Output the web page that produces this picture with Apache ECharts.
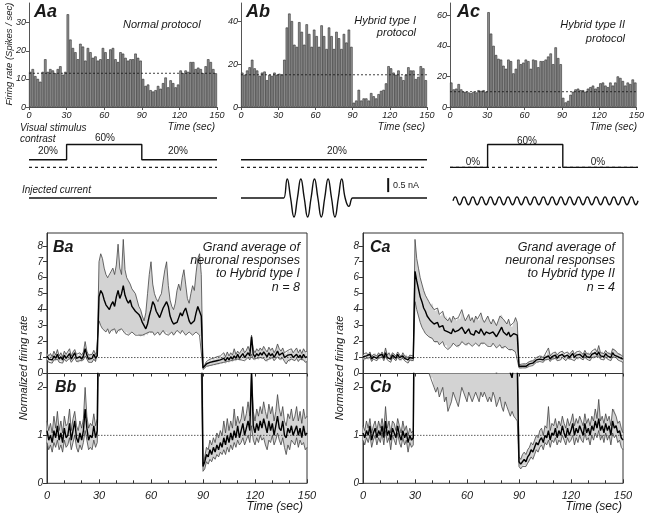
<!DOCTYPE html>
<html><head><meta charset="utf-8">
<script src="https://cdn.jsdelivr.net/npm/echarts@6/dist/echarts.min.js"></script>
<style>html,body{margin:0;padding:0;background:#fff}#c{width:647px;height:516px}</style>
</head><body><div id="c"></div>
<script>
// ---------------- DATA ----------------
// Panel A histograms (2 s bins, 0-150 s), spikes/sec
const aaRate = [12.5,13.5,11,10,9,12.5,17,12.5,13.5,13,12,13.5,14.5,11.5,12.5,
  33,24,21,19.5,17,22.5,21.5,16.5,21,19.5,17.5,18,16.5,17,21,19.5,17,20.5,21,17,16,19.5,19,17.5,16.5,17,17,19,17.5,16.5,
  10,7.5,8,6,5.5,6,7.5,6.5,8.5,10.5,7,9.5,8.5,7,8,13,12,13,12.5,16,16,13.5,14,13.5,12,14.5,17,16,13.5,12];
const abRate = [16,15,17,18.5,22,18,17,14.5,16,16.5,12.5,15,14.5,16,15,
  15.5,15,22,37,43.5,40,29,28,39.5,35,29,38.5,34,28,36,33,28,38,33,27,37,33,27,35,32,27,34,30,36,28,
  2,3,8,3,4,4,3,6.5,5,4,6,7.5,8,11,19,18,16,15,17,14,12.5,15,18.5,17,17,13,14,19,18,12.5];
const acRate = [16,11.5,12,15,11.5,10,10,9.5,9,10,9.5,11,10.5,11,10,
  62,48,40,34,31.5,31,27,25,31,30,22,25,31,28,29,31,30,25,31,30.5,26,30,30,31,33,35,28,39,32,28,
  6,3,4,8,10,11.5,12,11,11,10,12,13,14,12,13,15.5,16,14,13,16,14,16,20,19,17,14,16,15,18,16];
const baselineRate = [12, 15, 10];
const histMax = [37, 48.4, 68];
const histTicks = [[0,10,20,30],[0,20,40],[0,20,40,60]];
const timeTicks = [0,30,60,90,120,150];

// Stimulus contrast (%) vs time (s)
const contrastAa = [[0,20],[30,20],[30,60],[90,60],[90,20],[150,20]];
const contrastAb = [[0,20],[150,20]];
const contrastAc = [[0,0],[30,0],[30,60],[90,60],[90,0],[150,0]];
// Injected current (nA) vs time (s)
const currentAa = [[0,0],[150,0]];
const abCurT = [0,33,34.5,37.25,40,42.75,45.5,48.25,51,53.75,56.5,59.25,62,64.75,67.5,70.25,73,75.75,78.5,81.25,84,87,90,92,150];
const abCurV = [0,0,0,0.68,0,-0.68,0,0.68,0,-0.68,0,0.68,0,-0.68,0,0.68,0,-0.68,0,0.68,0,-0.3,0,0,0];
const acCurT = [2.4,4.2,7.7,11.2,14.7,18.2,21.7,25.2,28.8,32.3,35.8,39.3,42.8,46.3,49.9,53.4,56.9,60.4,63.9,67.4,70.9,74.5,78.0,81.5,85.0,88.5,92.0,95.5,99.1,102.6,106.1,109.6,113.1,116.6,120.2,123.7,127.2,130.7,134.2,137.7,141.2,144.8,148.3,150];
const acCurV = [-0.1,0.04,-0.24,0.04,-0.24,0.04,-0.24,0.04,-0.24,0.04,-0.24,0.04,-0.24,0.04,-0.24,0.04,-0.24,0.04,-0.24,0.04,-0.24,0.04,-0.24,0.04,-0.24,0.04,-0.24,0.04,-0.24,0.04,-0.24,0.04,-0.24,0.04,-0.24,0.04,-0.24,0.04,-0.24,0.04,-0.24,0.04,-0.24,-0.1];
const scaleBar = [[118.7,0.21],[118.7,0.71]]; // 0.5 nA

// Normalized firing rate, 1 s resolution, t = 0..150
const bMean = [1.1,0.9,1.0,0.85,1.1,0.95,1.2,0.9,1.05,0.85,1.15,0.95,1.0,1.25,0.9,1.1,1.3,0.95,0.85,1.05,0.9,1.1,1.55,1.15,0.9,1.0,0.95,1.2,0.95,1.1,
  4.8,5.2,5.0,4.6,4.3,4.2,4.0,4.3,4.5,4.2,4.8,5.2,4.7,5.0,5.5,4.9,4.6,4.4,4.6,4.2,4.1,3.9,4.0,3.7,3.5,3.2,3.0,2.8,3.1,3.6,
  4.0,4.5,4.3,3.9,3.7,3.5,3.8,4.1,4.3,4.5,4.2,3.6,3.3,3.1,3.0,3.2,3.5,3.8,3.6,3.9,4.1,3.7,3.3,3.1,3.0,3.3,3.8,4.2,4.3,3.6,
  0.35,0.45,0.6,0.55,0.7,0.6,0.75,0.65,0.8,0.7,0.85,0.75,0.95,0.8,1.0,0.85,1.05,0.9,1.1,0.95,1.2,0.95,1.1,1.25,1.0,1.15,1.3,1.1,2.3,1.2,
  1.05,1.25,1.1,1.3,1.15,1.35,1.2,1.05,1.3,1.1,1.25,1.0,1.2,1.4,1.15,1.1,1.3,1.0,0.95,1.15,1.05,1.2,1.0,1.1,1.2,1.0,1.15,0.95,1.2,1.0,1.05];
const bUpper = [1.3,1.1,1.25,1.05,1.4,1.15,1.5,1.1,1.3,1.05,1.4,1.2,1.25,1.55,1.1,1.35,1.5,1.2,1.1,1.3,1.15,1.35,2.0,1.4,1.15,1.25,1.2,1.45,1.2,1.35,
  7.0,7.5,7.2,6.6,6.2,6.0,6.1,6.4,6.6,6.2,6.8,8.1,6.6,6.2,8.4,6.5,6.0,5.8,5.6,5.3,5.2,5.0,4.6,4.2,4.0,3.6,3.3,3.8,5.0,6.2,
  7.0,5.6,5.0,4.7,4.5,4.8,5.0,5.8,6.5,7.0,5.5,4.6,4.2,4.0,4.4,5.2,5.6,5.2,6.0,6.5,5.6,4.7,4.4,5.0,5.5,5.2,6.3,7.2,7.5,6.2,
  0.4,0.55,0.75,0.7,0.9,0.8,0.95,0.85,1.05,0.95,1.1,1.0,1.3,1.05,1.35,1.1,1.3,1.15,1.55,1.2,1.4,1.25,1.35,1.6,1.3,1.45,1.7,1.4,2.4,1.5,
  1.3,1.55,1.4,1.6,1.45,1.7,1.5,1.35,1.65,1.45,1.6,1.3,1.5,1.85,1.55,1.4,1.6,1.3,1.2,1.45,1.35,1.55,1.3,1.4,1.6,1.3,1.5,1.25,1.55,1.35,1.4];
const bLower = [0.85,0.7,0.8,0.65,0.85,0.75,0.9,0.7,0.8,0.65,0.9,0.75,0.8,0.95,0.7,0.85,1.0,0.75,0.65,0.8,0.7,0.85,1.1,0.9,0.7,0.75,0.7,0.9,0.75,0.85,
  3.3,3.0,2.8,2.7,2.6,2.8,2.5,2.7,2.6,2.8,2.5,2.7,2.6,2.8,2.7,2.5,2.6,2.4,2.5,2.6,2.5,2.4,2.5,2.4,2.3,2.4,2.3,2.5,2.4,2.6,
  2.5,2.6,2.4,2.5,2.6,2.4,2.5,2.7,2.5,2.6,2.4,2.5,2.6,2.4,2.5,2.7,2.6,2.5,2.7,2.6,2.4,2.5,2.6,2.5,2.4,2.5,2.6,2.5,2.4,2.3,
  0.25,0.3,0.45,0.4,0.5,0.45,0.55,0.5,0.6,0.55,0.65,0.6,0.7,0.6,0.75,0.65,0.8,0.7,0.85,0.75,0.9,0.8,0.85,0.95,0.8,0.9,1.0,0.85,1.2,0.9,
  0.8,0.95,0.85,1.0,0.9,0.95,0.8,0.7,0.9,0.85,1.0,0.8,0.9,1.05,0.9,0.8,0.95,0.75,0.6,0.8,0.7,0.9,0.85,0.8,0.95,0.75,0.9,0.8,0.85,0.7,0.75];

const cMean = [1.05,0.95,1.1,1.0,1.2,0.9,1.05,1.15,0.95,1.1,1.0,1.2,0.95,1.3,1.0,1.1,0.9,1.15,1.05,0.95,1.2,1.0,0.9,1.1,0.95,1.05,0.85,1.0,0.9,0.95,
  6.4,5.8,5.3,4.8,4.5,4.1,3.9,3.6,3.5,3.3,3.4,3.1,3.0,3.2,2.9,2.8,3.0,2.7,2.8,2.6,2.7,2.5,2.8,2.6,2.5,2.7,2.6,2.9,2.7,2.5,
  2.6,2.8,2.5,2.6,2.4,2.7,2.6,2.5,2.8,2.6,2.4,2.6,2.7,2.5,2.4,2.6,2.5,2.3,2.5,2.7,2.9,2.6,2.5,2.4,2.6,2.3,2.2,2.5,2.6,2.4,
  0.45,0.4,0.45,0.5,0.45,0.55,0.6,0.7,0.65,0.75,0.85,0.8,0.9,0.95,0.85,1.0,0.95,1.1,0.9,1.05,1.0,1.15,0.95,1.1,1.0,1.2,1.05,0.95,1.15,1.0,
  1.1,1.25,1.0,1.15,1.05,1.2,1.1,1.0,1.25,1.05,1.15,1.0,1.2,1.1,1.3,1.15,1.35,1.1,1.2,1.05,1.25,1.1,1.2,1.0,1.3,1.15,1.2,1.05,1.1,0.95,0.9];
const cUpper = [1.2,1.1,1.3,1.15,1.35,1.05,1.2,1.3,1.1,1.3,1.15,1.35,1.1,1.6,1.15,1.3,1.05,1.3,1.25,1.1,1.35,1.2,1.05,1.3,1.1,1.2,1.0,1.15,1.05,1.1,
  8.4,7.2,6.6,6.0,5.6,5.2,4.9,4.7,4.5,4.3,4.4,4.0,3.9,4.1,3.7,3.6,3.9,3.5,3.6,3.3,3.5,3.2,3.6,3.4,3.3,3.5,3.4,4.0,3.6,3.3,
  3.5,3.7,3.3,3.5,3.2,3.6,3.4,3.3,3.8,3.4,3.2,3.4,3.6,3.3,3.1,3.4,3.3,3.0,3.3,3.6,3.7,3.4,3.3,3.1,3.4,3.0,2.9,3.2,3.5,3.2,
  0.55,0.5,0.6,0.65,0.6,0.7,0.75,0.85,0.8,0.9,1.0,0.95,1.1,1.15,1.0,1.2,1.15,1.6,1.1,1.25,1.2,1.35,1.15,1.3,1.2,1.4,1.25,1.15,1.35,1.2,
  1.3,1.45,1.2,1.35,1.25,1.4,1.3,1.2,1.45,1.25,1.35,1.2,1.4,1.3,1.55,1.35,1.75,1.3,1.4,1.25,1.45,1.3,1.4,1.2,1.55,1.55,1.4,1.25,1.3,1.15,1.05];
const cLower = [0.9,0.8,0.95,0.85,1.0,0.75,0.9,1.0,0.8,0.95,0.85,1.05,0.8,1.1,0.85,0.95,0.7,1.0,0.9,0.8,1.05,0.85,0.75,0.95,0.8,0.9,0.65,0.85,0.75,0.8,
  4.5,4.0,3.6,3.2,2.9,2.7,2.5,2.4,2.3,2.2,2.2,2.0,1.9,2.0,1.8,1.9,2.0,1.7,1.8,1.5,1.6,1.7,1.9,1.8,1.7,1.6,1.8,2.0,1.9,1.8,
  1.7,1.9,1.8,1.7,1.8,1.9,1.8,1.7,1.9,1.8,1.9,1.8,1.7,1.8,1.7,1.9,1.8,1.6,1.7,1.8,1.6,1.5,1.7,1.6,1.5,1.4,1.5,1.4,1.35,1.3,
  0.35,0.3,0.35,0.38,0.35,0.42,0.45,0.55,0.5,0.6,0.7,0.65,0.75,0.8,0.7,0.85,0.8,0.9,0.75,0.9,0.85,0.95,0.8,0.9,0.85,1.0,0.9,0.8,0.95,0.85,
  0.9,1.0,0.8,0.95,0.85,1.0,0.9,0.85,1.05,0.9,0.95,0.8,1.0,0.9,1.05,0.95,1.1,0.9,1.0,0.85,1.05,0.9,1.0,0.8,1.05,0.95,1.0,0.85,0.9,0.75,0.7];
const normTicksA = [0,1,2,3,4,5,6,7,8];
const normTicksB = [0,1,2];

// ---------------- BUILD ----------------
const FONT = '"Liberation Sans", Arial, sans-serif';
const tB = bMean.map((_, i) => i);
const histBins = aaRate.map((_, i) => i * 2);
const grids = [], xAxes = [], yAxes = [], series = [];
const addGrid = g => (grids.push(g), grids.length - 1);
const addX = a => (xAxes.push(a), xAxes.length - 1);
const addY = a => (yAxes.push(a), yAxes.length - 1);
const lab = (size) => ({fontSize:size, fontStyle:'italic', color:'#222', fontFamily:FONT});

// --- A panels
const histLayout = [{left:29,width:188},{left:241,width:186},{left:450,width:188}];
const rates = [aaRate, abRate, acRate];
histLayout.forEach((L, i) => {
  const g = addGrid({left:L.left, width:L.width, top:3, height:104});
  const xv = addX({type:'value', gridIndex:g, min:0, max:150, interval:30, position:'bottom',
    axisLine:{show:true, lineStyle:{color:'#555', width:1}},
    axisTick:{show:true, length:3, lineStyle:{color:'#555'}},
    axisLabel:Object.assign(lab(9), {margin:4}), splitLine:{show:false}});
  const xc = addX({type:'category', gridIndex:g, data:histBins, show:false, position:'top', boundaryGap:true});
  const y = addY({type:'value', gridIndex:g, min:0, max:histMax[i],
    axisLine:{show:true, lineStyle:{color:'#555', width:1}},
    axisTick:{show:true, length:3, customValues:histTicks[i], lineStyle:{color:'#555'}},
    axisLabel:Object.assign(lab(9), {margin:3, customValues:histTicks[i]}), splitLine:{show:false}});
  series.push({type:'bar', xAxisIndex:xc, yAxisIndex:y, data:rates[i], barCategoryGap:'0%', silent:true,
    itemStyle:{color:'#939393', borderColor:'#2b2b2b', borderWidth:0.6}});
  series.push({type:'line', xAxisIndex:xv, yAxisIndex:y, data:[[0,baselineRate[i]],[150,baselineRate[i]]],
    symbol:'none', z:5, lineStyle:{type:[2,2], width:0.8, color:'#111'}});
});

// --- Stimulus panels
const contrasts = [contrastAa, contrastAb, contrastAc];
const currents = [currentAa, abCurT.map((t,i)=>[t,abCurV[i]]), acCurT.map((t,i)=>[t,acCurV[i]])];
histLayout.forEach((L, i) => {
  const g1 = addGrid({left:L.left, width:L.width, top:140, height:27.36});
  const x1 = addX({type:'value', gridIndex:g1, min:0, max:150, show:false});
  const y1 = addY({type:'value', gridIndex:g1, min:0, max:72, show:false});
  series.push({type:'line', xAxisIndex:x1, yAxisIndex:y1, data:[[0,0],[150,0]], symbol:'none', clip:false,
    lineStyle:{type:[3,3], width:1.2, color:'#222'}});
  series.push({type:'line', xAxisIndex:x1, yAxisIndex:y1, data:contrasts[i], symbol:'none', clip:false, z:4,
    lineStyle:{width:1.4, color:'#111'}});
  const g2 = addGrid({left:L.left, width:L.width, top:175, height:46});
  const x2 = addX({type:'value', gridIndex:g2, min:0, max:150, show:false});
  const y2 = addY({type:'value', gridIndex:g2, min:-0.82, max:0.82, show:false});
  series.push({type:'line', xAxisIndex:x2, yAxisIndex:y2, data:currents[i], symbol:'none', clip:false,
    smooth: i === 0 ? false : 0.5, lineStyle:{width:1.4, color:'#111'}});
  if (i === 1) series.push({type:'line', xAxisIndex:x2, yAxisIndex:y2, data:scaleBar, symbol:'none', clip:false,
    lineStyle:{width:2, color:'#111'}});
});

// --- B / C panels
function normPanel(left, mean, hi, lo) {
  [[233, 140.5, 8.8, normTicksA, false], [373.5, 109.8, 2.29, normTicksB, true]].forEach(([top, h, max, ticks, bottom]) => {
    const g = addGrid({left:left, width:260, top:top, height:h, show:true, borderColor:'#333', borderWidth:1});
    const x = addX({type:'value', gridIndex:g, min:0, max:150, interval:30, position:'bottom',
      axisLine:{show:false},
      axisTick:{show:bottom, inside:true, length:4, lineStyle:{color:'#333'}},
      minorTick:{show:bottom, splitNumber:3, length:3, lineStyle:{color:'#333'}},
      axisLabel:Object.assign(lab(11), {show:bottom, margin:7}), splitLine:{show:false}});
    if (bottom) addX({type:'value', gridIndex:g, min:0, max:150, interval:30, position:'top',
      axisLine:{show:false}, axisLabel:{show:false}, splitLine:{show:false},
      axisTick:{show:true, inside:true, length:3, lineStyle:{color:'#333'}},
      minorTick:{show:true, splitNumber:3, length:3, lineStyle:{color:'#333'}}});
    const y = addY({type:'value', gridIndex:g, min:0, max:max,
      axisLine:{show:true, lineStyle:{color:'#333'}},
      axisTick:{show:true, length:4, customValues:ticks, lineStyle:{color:'#333'}},
      axisLabel:Object.assign(lab(10), {margin:4, customValues:ticks}), splitLine:{show:false}});
    // shaded band between lower and upper envelopes
    series.push({type:'custom', xAxisIndex:x, yAxisIndex:y, clip:true, silent:true, z:1,
      data:[[0, 0]],
      renderItem: (params, api) => {
        const pts = tB.map((t, i) => api.coord([t, hi[i]]));
        for (let i = tB.length - 1; i >= 0; i--) pts.push(api.coord([tB[i], lo[i]]));
        return {type:'polygon', shape:{points:pts}, style:{fill:'#d3d3d3', stroke:null}};
      }});
    series.push({type:'line', xAxisIndex:x, yAxisIndex:y, symbol:'none', data:[[0,1],[150,1]],
      lineStyle:{type:[1.5,1.5], width:0.8, color:'#333'}});
    series.push({type:'line', xAxisIndex:x, yAxisIndex:y, symbol:'none', data:tB.map((t,i)=>[t, hi[i]]),
      lineStyle:{width:0.8, color:'#444'}});
    series.push({type:'line', xAxisIndex:x, yAxisIndex:y, symbol:'none', data:tB.map((t,i)=>[t, lo[i]]),
      lineStyle:{width:0.8, color:'#444'}});
    series.push({type:'line', xAxisIndex:x, yAxisIndex:y, symbol:'none', data:tB.map((t,i)=>[t, mean[i]]),
      lineStyle:{width:1.4, color:'#000'}});
  });
}
normPanel(47, bMean, bUpper, bLower);
normPanel(363, cMean, cUpper, cLower);

// --- Texts
const T = (x, y, text, o) => Object.assign({type:'text', x:x, y:y, z:100,
  style:Object.assign({text:text, fontFamily:FONT, fontSize:11, fontStyle:'italic', fill:'#1a1a1a',
    align:'left', verticalAlign:'middle'}, o || {})});
const B = {fontSize:18, fontWeight:'bold'};
const graphics = [
  T(34, 12, 'Aa', B), T(246, 12, 'Ab', B), T(457, 12, 'Ac', B),
  T(123, 25, 'Normal protocol'),
  T(416, 21, 'Hybrid type I', {align:'right'}), T(416, 33, 'protocol', {align:'right'}),
  T(625, 25, 'Hybrid type II', {align:'right'}), T(625, 39, 'protocol', {align:'right'}),
  T(215, 127, 'Time (sec)', {align:'right', fontSize:10}),
  T(425, 127, 'Time (sec)', {align:'right', fontSize:10}),
  T(637, 127, 'Time (sec)', {align:'right', fontSize:10}),
  Object.assign(T(9, 54, 'Firing rate (Spikes / sec)', {align:'center', fontSize:9.5}), {rotation:Math.PI/2}),
  T(20, 128, 'Visual stimulus', {fontSize:10}), T(20, 139, 'contrast', {fontSize:10}),
  T(48, 151, '20%', {align:'center', fontSize:10, fontStyle:'normal'}),
  T(105, 138, '60%', {align:'center', fontSize:10, fontStyle:'normal'}),
  T(178, 151, '20%', {align:'center', fontSize:10, fontStyle:'normal'}),
  T(337, 151, '20%', {align:'center', fontSize:10, fontStyle:'normal'}),
  T(527, 141, '60%', {align:'center', fontSize:10, fontStyle:'normal'}),
  T(473, 162, '0%', {align:'center', fontSize:10, fontStyle:'normal'}),
  T(598, 162, '0%', {align:'center', fontSize:10, fontStyle:'normal'}),
  T(22, 190, 'Injected current', {fontSize:10}),
  T(393, 186, '0.5 nA', {fontSize:9, fontStyle:'normal'}),
  T(53, 248, 'Ba', {fontSize:16, fontWeight:'bold'}), T(55, 388, 'Bb', {fontSize:16, fontWeight:'bold'}),
  T(370, 248, 'Ca', {fontSize:16, fontWeight:'bold'}), T(370, 388, 'Cb', {fontSize:16, fontWeight:'bold'}),
  T(300, 248, 'Grand average of', {align:'right', fontSize:12.5}),
  T(300, 261, 'neuronal responses', {align:'right', fontSize:12.5}),
  T(300, 274, 'to Hybrid type I', {align:'right', fontSize:12.5}),
  T(300, 288, 'n = 8', {align:'right', fontSize:12.5}),
  T(615, 248, 'Grand average of', {align:'right', fontSize:12.5}),
  T(615, 261, 'neuronal responses', {align:'right', fontSize:12.5}),
  T(615, 274, 'to Hybrid type II', {align:'right', fontSize:12.5}),
  T(615, 288, 'n = 4', {align:'right', fontSize:12.5}),
  Object.assign(T(24, 368, 'Normalized firing rate', {align:'center', fontSize:11}), {rotation:Math.PI/2}),
  Object.assign(T(340, 368, 'Normalized firing rate', {align:'center', fontSize:11}), {rotation:Math.PI/2}),
  T(303, 507, 'Time (sec)', {align:'right', fontSize:12}),
  T(622, 507, 'Time (sec)', {align:'right', fontSize:12})
];

const chart = echarts.init(document.getElementById('c'), null, {renderer:'canvas'});
chart.setOption({animation:false, backgroundColor:'#fff',
  grid:grids, xAxis:xAxes, yAxis:yAxes, series:series, graphic:graphics});
</script></body></html>
